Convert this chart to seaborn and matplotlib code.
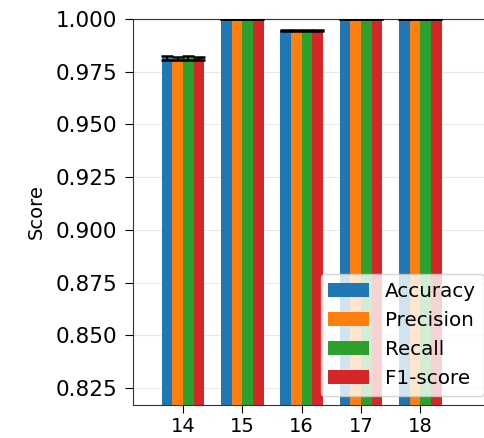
import matplotlib
matplotlib.use("Agg")
import matplotlib.pyplot as plt
import seaborn as sns
import pandas as pd
import numpy as np

# Mean scores per model (x categories) and metric
models = ["14", "15", "16", "17", "18"]
metrics = ["Accuracy", "Precision", "Recall", "F1-score"]
accuracy = [0.9815, 1.0, 0.9946, 1.0, 1.0]
precision = [0.9812, 1.0, 0.9946, 1.0, 1.0]
recall = [0.9815, 1.0, 0.9946, 1.0, 1.0]
f1_score = [0.9813, 1.0, 0.9946, 1.0, 1.0]
# Standard deviations across runs
accuracy_sd = [0.0008, 0.0, 0.0003, 0.0, 0.0]
precision_sd = [0.0008, 0.0, 0.0003, 0.0, 0.0]
recall_sd = [0.0008, 0.0, 0.0003, 0.0, 0.0]
f1_score_sd = [0.0008, 0.0, 0.0003, 0.0, 0.0]

colors = ["#1f77b4", "#ff7f0e", "#2ca02c", "#d62728"]

means = [accuracy, precision, recall, f1_score]
sds = [accuracy_sd, precision_sd, recall_sd, f1_score_sd]
rows = []
for metric, vals, errs in zip(metrics, means, sds):
    for m, v, e in zip(models, vals, errs):
        rows.append({"Model": m, "Metric": metric, "Score": v, "SD": e})
df = pd.DataFrame(rows)

W, H = 484, 438
fig = plt.figure(figsize=(W / 100, H / 100), dpi=100)
# The plotting area runs past the right edge of the canvas
ax = fig.add_axes([133 / W, 1 - 405 / H, 435 / W, (405 - 19) / H])

sns.barplot(data=df, x="Model", y="Score", hue="Metric", palette=colors,
            width=0.72, errorbar=None, ax=ax, saturation=1, zorder=2)

# Error bars at the centre of each bar
for metric, container in zip(metrics, ax.containers):
    sub = df[df["Metric"] == metric]
    xs = [p.get_x() + p.get_width() / 2 for p in container.patches]
    ax.errorbar(xs, sub["Score"].values, yerr=sub["SD"].values, fmt="none",
                ecolor="black", elinewidth=1.5, capsize=4, capthick=1.8, zorder=3)

ax.set_ylim(0.8169, 1.0)
ax.set_xlim(-0.843, -0.843 + 435 / 59.3)
ticks = np.arange(0.825, 1.0001, 0.025)
ax.set_yticks(ticks)
ax.set_yticklabels([f"{t:.3f}" for t in ticks])
ax.yaxis.grid(True, color="#e8e8e8", linewidth=0.8)
ax.set_axisbelow(True)
ax.tick_params(axis="y", labelsize=15.5, length=5.5, pad=6)
ax.tick_params(axis="x", labelsize=14, length=5.5)
ax.set_xlabel("")
ax.set_ylabel("Score", fontsize=14, labelpad=7)
ax.spines["right"].set_visible(False)
for s in ax.spines.values():
    s.set_color("#333333")

ax.legend(loc="lower right", bbox_to_anchor=(484 / W, 1 - 396 / H),
          bbox_transform=fig.transFigure, borderaxespad=0, fontsize=14.3,
          frameon=True, handlelength=2.05, borderpad=0.4, labelspacing=0.5)

fig.savefig("out.png", dpi=100)
